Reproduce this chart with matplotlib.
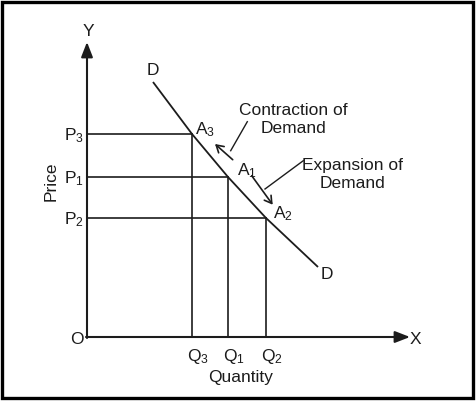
import matplotlib
matplotlib.use('Agg')
import matplotlib.pyplot as plt
from matplotlib.patches import Rectangle

plt.rcParams['font.family'] = ['Liberation Sans', 'DejaVu Sans']
plt.rcParams['mathtext.fontset'] = 'custom'
plt.rcParams['mathtext.rm'] = 'Liberation Sans'
plt.rcParams['mathtext.it'] = 'Liberation Sans:italic'

# demand curve DD (origin at O, arbitrary units)
curve_q = [66, 105, 141, 179, 231]
curve_p = [255, 203, 160, 119, 70]

# points on the curve: A3, A1, A2
subs = ['3', '1', '2']
quantity = [105, 141, 179]
price = [203, 160, 119]

x_end = 323
y_end = 295

ink = '#1c1c1c'
fs = 12.5

fig = plt.figure(figsize=(4.77, 4.02), dpi=100)
fig.patch.set_facecolor('white')
ax = fig.add_axes([0, 0, 1, 1])
ax.set_xlim(-87, 390)
ax.set_ylim(-64, 338)
ax.axis('off')

# axes with filled arrow heads
ax.annotate('', xy=(0, y_end), xytext=(0, -1),
            arrowprops=dict(arrowstyle='-|>,head_length=0.9,head_width=0.35',
                            lw=1.5, color=ink, shrinkA=0, shrinkB=0))
ax.annotate('', xy=(x_end, 0), xytext=(-1, 0),
            arrowprops=dict(arrowstyle='-|>,head_length=0.9,head_width=0.35',
                            lw=1.5, color=ink, shrinkA=0, shrinkB=0))

# demand curve
ax.plot(curve_q, curve_p, color=ink, lw=1.3, solid_capstyle='butt')

# guide lines to the axes
offs_a = [(3, 1), (9, 3), (7, 1)]
for s, q, p, (dx, dy) in zip(subs, quantity, price, offs_a):
    ax.plot([0, q], [p, p], color=ink, lw=1.2)
    ax.plot([q, q], [0, p], color=ink, lw=1.2)
    ax.text(-3, p - 5, 'P$_%s$' % s, ha='right', va='baseline', fontsize=fs, color=ink)
    ax.text(q - 5, -23, 'Q$_%s$' % s, ha='left', va='baseline', fontsize=fs, color=ink)
    ax.text(q + dx, p + dy, 'A$_%s$' % s, ha='left', va='baseline', fontsize=fs, color=ink)

# movement arrows along the curve
ax.annotate('', xy=(128, 193), xytext=(145.7, 177.3),
            arrowprops=dict(arrowstyle='->,head_length=0.5,head_width=0.3',
                            lw=1.2, color=ink, shrinkA=0, shrinkB=0))
ax.annotate('', xy=(185.7, 132.3), xytext=(164.7, 161.3),
            arrowprops=dict(arrowstyle='->,head_length=0.5,head_width=0.3',
                            lw=1.2, color=ink, shrinkA=0, shrinkB=0))

# leader lines to the notes
ax.plot([160.3, 143.7], [215.3, 186.3], color=ink, lw=1.0)
ax.plot([216.3, 178], [176.3, 148], color=ink, lw=1.0)

ax.text(206, 218.5, 'Contraction of\nDemand', ha='center', va='center',
        fontsize=fs, color=ink, linespacing=1.25)
ax.text(266, 163.5, 'Expansion of\nDemand', ha='center', va='center',
        fontsize=fs, color=ink, linespacing=1.25)

ax.text(1.3, 306, 'Y', ha='center', va='center', fontsize=fs, color=ink)
ax.text(328, -1.3, 'X', ha='center', va='center', fontsize=fs, color=ink)
ax.text(-10.3, -2, 'O', ha='center', va='center', fontsize=fs, color=ink)
ax.text(66.3, 267.3, 'D', ha='center', va='center', fontsize=fs, color=ink)
ax.text(239.7, 63, 'D', ha='center', va='center', fontsize=fs, color=ink)
ax.text(-35.5, 157, 'Price', ha='center', va='center', rotation=90,
        fontsize=fs, color=ink)
ax.text(153.5, -40, 'Quantity', ha='center', va='center', fontsize=fs, color=ink)

# frame around the figure
fig.patches.append(Rectangle((2 / 477, 3.5 / 402), 471.5 / 477, 395.5 / 402,
                             transform=fig.transFigure, fill=False,
                             lw=2.4, edgecolor='black'))

fig.savefig('out.png', dpi=100)
